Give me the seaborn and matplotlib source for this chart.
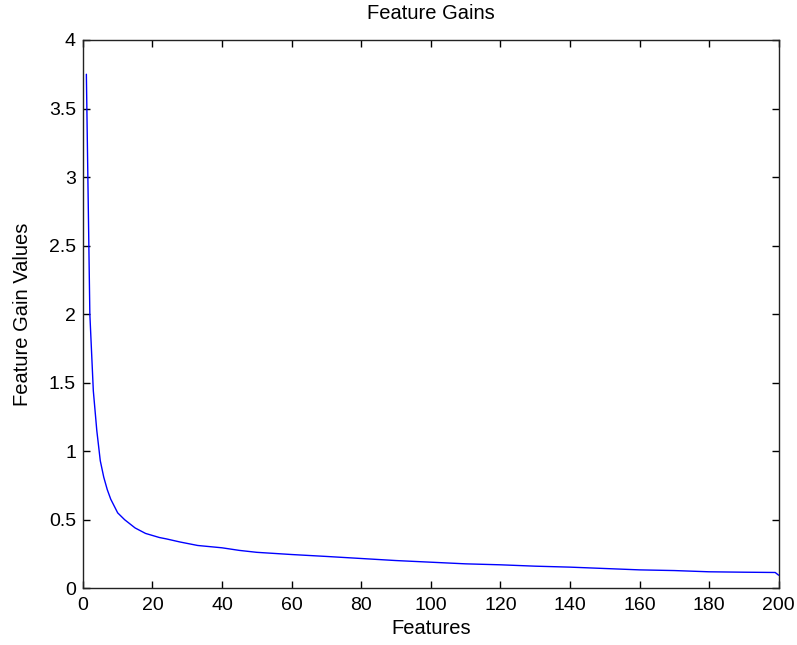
import matplotlib
matplotlib.use("Agg")
import matplotlib.pyplot as plt
import seaborn as sns
import pandas as pd

features = [1, 2, 3, 4, 5, 6, 7, 8, 10, 12, 15, 18, 20, 22, 24, 28, 33, 40, 45, 50, 60, 70, 80,
            90, 100, 110, 120, 130, 140, 150, 160, 170, 180, 190, 199, 200]
gains = [3.75, 2.0, 1.44, 1.15, 0.93, 0.81, 0.72, 0.65, 0.55, 0.50, 0.44, 0.40, 0.385, 0.37, 0.36,
         0.337, 0.312, 0.295, 0.276, 0.262, 0.246, 0.232, 0.217, 0.202, 0.19, 0.178, 0.171, 0.161,
         0.154, 0.144, 0.134, 0.129, 0.12, 0.117, 0.115, 0.095]
x_ticks = [0, 20, 40, 60, 80, 100, 120, 140, 160, 180, 200]
y_ticks = [0, 0.5, 1, 1.5, 2, 2.5, 3, 3.5, 4]
y_tick_labels = ["0", "0.5", "1", "1.5", "2", "2.5", "3", "3.5", "4"]

sns.set_style("white")
plt.rcParams["font.family"] = ["Liberation Sans", "DejaVu Sans"]
plt.rcParams["text.color"] = "black"
plt.rcParams["axes.labelcolor"] = "black"

df = pd.DataFrame({"Features": features, "Gain": gains})

fig = plt.figure(figsize=(7.97, 6.45), dpi=100)
ax = fig.add_axes([0.104, 0.088, 0.873, 0.85])
sns.lineplot(data=df, x="Features", y="Gain", color="#0000ff", linewidth=1.0, ax=ax)

ax.set_xlim(0, 200)
ax.set_ylim(0, 4)
ax.set_xticks(x_ticks)
ax.set_yticks(y_ticks)
ax.set_yticklabels(y_tick_labels)
ax.tick_params(direction="in", length=5, width=1, labelsize=14, colors="black",
               top=True, right=True, bottom=True, left=True, pad=5)
ax.tick_params(axis="x", pad=6)
for s in ax.spines.values():
    s.set_color("#222222")
    s.set_linewidth(1.0)
ax.set_xlabel("Features", fontsize=14.5, labelpad=4, color="black")
ax.set_ylabel("Feature Gain Values", fontsize=14.5, labelpad=12, color="black")
ax.set_title("Feature Gains", fontsize=14.5, pad=15, color="black")

fig.savefig("out.png", dpi=100, facecolor="white")
